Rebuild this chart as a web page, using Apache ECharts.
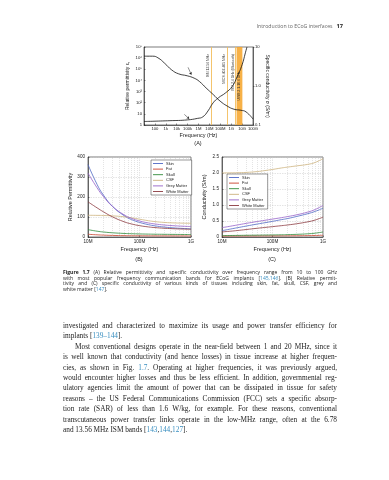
<!DOCTYPE html>
<html>
<head>
<meta charset="utf-8">
<script src="https://cdn.jsdelivr.net/npm/echarts@6.0.0/dist/echarts.min.js"></script>
<style>
html,body{margin:0;padding:0;background:#fff;}
#page{position:relative;width:389px;height:480px;overflow:hidden;background:#fff;}
#chart{position:absolute;left:0;top:0;width:389px;height:480px;}
#hdr{position:absolute;top:23px;left:200px;width:143px;text-align:right;font-family:'Open Sans';font-size:5.2px;line-height:6px;color:#666;white-space:nowrap;}
#hdr b{color:#222;font-size:5.6px;margin-left:4px;}
.blk{position:absolute;left:63px;width:274px;}
.blk div{white-space:nowrap;overflow:visible;}
.blk span.l{display:inline-block;}
#cap{top:270px;font-family:'Open Sans';font-size:5px;line-height:5.6px;color:#222;}
#body{top:321px;font-family:'Liberation Serif';font-size:7.3px;line-height:10.4px;color:#222;}
.ref{color:#3a8fc0;}
</style>
</head>
<body>
<div id="page">
  <div id="chart"></div>
  <div id="hdr">Introduction to ECoG interfaces<b>17</b></div>
  <div id="cap" class="blk">
    <div class="j"><span class="l"><b>Figure 1.7</b> (A) Relative permittivity and specific conductivity over frequency range from 10 to 100 GHz</span></div>
    <div class="j"><span class="l">with most popular frequency communication bands for ECoG implants [<span class="ref">145,146</span>]. (B) Relative permit-</span></div>
    <div class="j"><span class="l">tivity and (C) specific conductivity of various kinds of tissues including skin, fat, skull, CSF, grey and</span></div>
    <div><span class="l">white matter [<span class="ref">147</span>].</span></div>
  </div>
  <div id="body" class="blk">
    <div class="j"><span class="l">investigated and characterized to maximize its usage and power transfer efficiency for</span></div>
    <div><span class="l">implants [<span class="ref">139–144</span>].</span></div>
    <div class="j" style="padding-left:12px"><span class="l">Most conventional designs operate in the near-field between 1 and 20 MHz, since it</span></div>
    <div class="j"><span class="l">is well known that conductivity (and hence losses) in tissue increase at higher frequen-</span></div>
    <div class="j"><span class="l">cies, as shown in Fig. <span class="ref">1.7</span>. Operating at higher frequencies, it was previously argued,</span></div>
    <div class="j"><span class="l">would encounter higher losses and thus be less efficient. In addition, governmental reg-</span></div>
    <div class="j"><span class="l">ulatory agencies limit the amount of power that can be dissipated in tissue for safety</span></div>
    <div class="j"><span class="l">reasons – the US Federal Communications Commission (FCC) sets a specific absorp-</span></div>
    <div class="j"><span class="l">tion rate (SAR) of less than 1.6 W/kg, for example. For these reasons, conventional</span></div>
    <div class="j"><span class="l">transcutaneous power transfer links operate in the low-MHz range, often at the 6.78</span></div>
    <div><span class="l">and 13.56 MHz ISM bands [<span class="ref">143</span>,<span class="ref">144</span>,<span class="ref">127</span>].</span></div>
  </div>
</div>
<script>
// ---------- Chart A data ----------
const freqEpsA = [10, 60, 190, 800, 3500, 15000, 93000, 400000, 1.2e6, 5e6, 2.2e7, 9.5e7, 4.2e8, 1.8e9, 7.8e9, 2.3e10, 1e11];
const epsA     = [1.5e6, 1.5e6, 1.07e6, 3.4e5, 8.7e4, 3.9e4, 2.6e4, 1.6e4, 8.1e3, 2.1e3, 550, 141, 51, 26, 21, 15, 3.4];
const freqSigA = [10, 2400, 93000, 830000, 2.5e6, 7.4e6, 2.2e7, 6.8e7, 2.9e8, 1.26e9, 3.7e9, 1e10, 2e10, 2.8e10];
const sigA     = [0.123, 0.129, 0.135, 0.148, 0.162, 0.229, 0.37, 0.5, 0.66, 0.98, 1.8, 3.5, 7.1, 10];
const xTickLabelsA = ['10', '100', '1k', '10k', '100k', '1M', '10M', '100M', '1G', '10G', '100G'];
const bandLineFreqs = [13.56e6, 403.5e6, 2.45e9];
const bandLineNames = ['ISM 13.56 MHz', 'MICS 402-405 MHz', 'ISM 2.4 GHz (Bluetooth)'];
const uwbRange = [3.1e9, 10.6e9];
const uwbName = 'UWB 3.1-10.6 GHz';

// ---------- Charts B & C data ----------
const tissues = ['Skin', 'Fat', 'Skull', 'CSF', 'Grey Matter', 'White Matter'];
const tissueColors = ['#4f68c4', '#c8412c', '#2f8a3a', '#cdb27e', '#9461c9', '#8c3a40'];
const freqBC = [1e7, 1.5e7, 2e7, 3e7, 5e7, 7e7, 1e8, 1.5e8, 2e8, 3e8, 5e8, 7e8, 1e9];
const permSkin  = [362, 263, 209, 153, 107, 87, 73, 61.6, 55.7, 49.8, 45, 42.7, 40.9];
const permFat   = [13.6, 10.9, 9.4, 7.9, 6.75, 6.3, 6.0, 5.8, 5.7, 5.62, 5.52, 5.48, 5.44];
const permSkull = [36.8, 29, 25, 21, 17.8, 16.4, 15.3, 14.4, 13.9, 13.4, 12.9, 12.6, 12.4];
const permCSF   = [108.6, 108.1, 107.5, 105.7, 101, 95.8, 89, 81.3, 77, 73, 70.2, 69.3, 68.4];
const permGrey  = [319.5, 246.1, 201.9, 152.6, 111.1, 93.3, 80.2, 70.1, 65.1, 60.0, 55.8, 53.9, 52.3];
const permWhite = [175.8, 145.8, 125.8, 100.5, 76.4, 65.2, 56.8, 50.3, 47.1, 43.8, 41.0, 39.7, 38.6];
const condSkin  = [0.197, 0.251, 0.289, 0.341, 0.405, 0.445, 0.489, 0.542, 0.578, 0.641, 0.729, 0.80, 0.90];
const condFat   = [0.029, 0.030, 0.031, 0.032, 0.033, 0.034, 0.035, 0.036, 0.037, 0.039, 0.043, 0.047, 0.054];
const condSkull = [0.043, 0.047, 0.050, 0.054, 0.058, 0.061, 0.064, 0.069, 0.074, 0.083, 0.10, 0.12, 0.156];
const condCSF   = [2.002, 2.005, 2.009, 2.018, 2.045, 2.075, 2.111, 2.157, 2.185, 2.222, 2.27, 2.33, 2.45];
const condGrey  = [0.292, 0.340, 0.375, 0.425, 0.484, 0.521, 0.560, 0.604, 0.639, 0.693, 0.779, 0.860, 0.986];
const condWhite = [0.159, 0.182, 0.202, 0.233, 0.273, 0.298, 0.324, 0.354, 0.376, 0.414, 0.474, 0.531, 0.622];
const xTickLabelsBC = {7: '10M', 8: '100M', 9: '1G'};
const minorGridFreqs = [2e7, 3e7, 4e7, 5e7, 6e7, 7e7, 8e7, 9e7, 2e8, 3e8, 4e8, 5e8, 6e8, 7e8, 8e8, 9e8];
const permSets = [permSkin, permFat, permSkull, permCSF, permGrey, permWhite];
const condSets = [condSkin, condFat, condSkull, condCSF, condGrey, condWhite];

// ---------- build ----------
const FONT = 'Liberation Sans';
const SUP = {'0':'⁰','1':'¹','2':'²','3':'³','4':'⁴','5':'⁵','6':'⁶','7':'⁷','8':'⁸','9':'⁹'};
const e10 = v => Math.round(Math.log10(v));
const pairs = (xs, ys) => xs.map((x, i) => [x, ys[i]]);
const axisLineStyle = {lineStyle: {color: '#222', width: 0.6}};
const tickLabel = (size) => ({fontSize: size, color: '#222', fontFamily: FONT});

const chart = echarts.init(document.getElementById('chart'), null, {renderer: 'canvas', width: 389, height: 480});

const series = [];
// A: decoration series (bands, annotations), drawn underneath the curves
series.push({
  type: 'line', xAxisIndex: 0, yAxisIndex: 0, data: [], z: 1, silent: true,
  markArea: {
    silent: true,
    itemStyle: {color: 'rgba(246,166,45,0.88)'},
    label: {show: true, rotate: 90, fontSize: 3.4, color: '#333', fontFamily: FONT, position: 'inside'},
    data: [[{xAxis: uwbRange[0], name: uwbName}, {xAxis: uwbRange[1]}]]
  },
  markLine: {
    silent: true, symbol: 'none',
    lineStyle: {color: '#f3bd5c', width: 0.9, type: 'solid'},
    label: {show: true, position: 'insideEndTop', fontSize: 3.4, color: '#333', fontFamily: FONT, distance: 1,
      padding: [0, 6, 0, 0], formatter: p => p.name},
    data: bandLineFreqs.map((f, i) => ({xAxis: f, name: bandLineNames[i]}))
  },
  markPoint: {
    silent: true, symbol: 'none',
    label: {show: true, fontSize: 5, color: '#222', fontFamily: 'DejaVu Serif', fontStyle: 'italic', formatter: p => p.name},
    data: [
      {coord: [6e4, 2.5e5], name: 'ε′r'},
      {coord: [3e4, 14], name: 'σ'}
    ]
  }
});
// small pointer arrows from the annotations to their curves
series.push({
  type: 'line', xAxisIndex: 0, yAxisIndex: 0, data: [], z: 2, silent: true,
  markLine: {
    silent: true, symbol: ['none', 'arrow'], symbolSize: 2.5, label: {show: false},
    lineStyle: {color: '#222', width: 0.5, type: 'solid'},
    data: [
      [{coord: [1.1e5, 1.5e5]}, {coord: [2.2e5, 3.3e4]}],
      [{coord: [5e4, 9]}, {coord: [1.4e5, 3.6]}]
    ]
  }
});
series.push({type: 'line', name: 'eps', xAxisIndex: 0, yAxisIndex: 0, z: 5, smooth: true, showSymbol: false,
  lineStyle: {color: '#111', width: 0.8}, data: pairs(freqEpsA, epsA)});
series.push({type: 'line', name: 'sigma', xAxisIndex: 0, yAxisIndex: 1, z: 5, smooth: true, showSymbol: false,
  lineStyle: {color: '#111', width: 0.8}, data: pairs(freqSigA, sigA)});

// B and C
[1, 2].forEach(k => {
  const sets = k === 1 ? permSets : condSets;
  tissues.forEach((t, i) => {
    const s = {type: 'line', name: t, xAxisIndex: k, yAxisIndex: k + 1, z: 5, smooth: true, showSymbol: false,
      color: tissueColors[i], lineStyle: {width: 0.8}, data: pairs(freqBC, sets[i])};
    if (i === 0) {
      s.markLine = {silent: true, symbol: 'none', z: 1, label: {show: false},
        lineStyle: {color: '#c8c8c8', width: 0.5, type: [1, 1]},
        data: minorGridFreqs.map(f => ({xAxis: f}))};
    }
    series.push(s);
  });
});

const gridLine = {show: true, lineStyle: {color: '#c8c8c8', width: 0.5, type: [1.5, 1]}};
const legendBase = {
  data: tissues, orient: 'vertical', icon: 'rect', itemWidth: 10, itemHeight: 0.9, itemGap: 1.6,
  selectedMode: false, backgroundColor: '#fff', borderColor: '#333', borderWidth: 0.5, padding: [1.5, 3, 1.5, 2],
  textStyle: {fontSize: 4, color: '#222', fontFamily: FONT, padding: [0, 0, 0, -2]}
};
const titleStyle = {fontSize: 5.5, fontWeight: 'normal', color: '#222', fontFamily: FONT};

const option = {
  animation: false,
  textStyle: {fontFamily: FONT},
  title: [
    {text: '(A)', left: 198, top: 140, textAlign: 'center', padding: 0, textStyle: titleStyle},
    {text: '(B)', left: 139, top: 256, textAlign: 'center', padding: 0, textStyle: titleStyle},
    {text: '(C)', left: 272, top: 256, textAlign: 'center', padding: 0, textStyle: titleStyle}
  ],
  legend: [
    Object.assign({}, legendBase, {left: 151, top: 160}),
    Object.assign({}, legendBase, {left: 227, top: 174})
  ],
  grid: [
    {left: 144, top: 47, width: 109, height: 78, show: true, borderColor: '#222', borderWidth: 0.6, backgroundColor: 'transparent'},
    {left: 88, top: 157, width: 103, height: 80, show: true, borderColor: '#222', borderWidth: 0.6, backgroundColor: 'transparent'},
    {left: 222, top: 157, width: 101, height: 80, show: true, borderColor: '#222', borderWidth: 0.6, backgroundColor: 'transparent'}
  ],
  xAxis: [
    {type: 'log', logBase: 10, gridIndex: 0, min: 10, max: 1e11, interval: 1, splitNumber: 10,
      axisLine: axisLineStyle, axisTick: {inside: true, length: 1.5, lineStyle: {width: 0.5}}, splitLine: {show: false},
      axisLabel: Object.assign(tickLabel(4.2), {margin: 2, showMinLabel: true, showMaxLabel: true,
        formatter: v => { const e = e10(v); return e === 1 ? '' : xTickLabelsA[e - 1]; }}),
      name: 'Frequency (Hz)', nameLocation: 'middle', nameGap: 7.5, nameTextStyle: {fontSize: 5.5, color: '#222', fontFamily: FONT}},
    {type: 'log', logBase: 10, gridIndex: 1, min: 1e7, max: 1e9, interval: 1,
      axisLine: axisLineStyle, axisTick: {inside: true, length: 1.5, lineStyle: {width: 0.5}}, splitLine: gridLine,
      axisLabel: Object.assign(tickLabel(4.6), {margin: 2.5, formatter: v => xTickLabelsBC[e10(v)]}),
      name: 'Frequency (Hz)', nameLocation: 'middle', nameGap: 9, nameTextStyle: {fontSize: 5.5, color: '#222', fontFamily: FONT}},
    {type: 'log', logBase: 10, gridIndex: 2, min: 1e7, max: 1e9, interval: 1,
      axisLine: axisLineStyle, axisTick: {inside: true, length: 1.5, lineStyle: {width: 0.5}}, splitLine: gridLine,
      axisLabel: Object.assign(tickLabel(4.6), {margin: 2.5, formatter: v => xTickLabelsBC[e10(v)]}),
      name: 'Frequency (Hz)', nameLocation: 'middle', nameGap: 9, nameTextStyle: {fontSize: 5.5, color: '#222', fontFamily: FONT}}
  ],
  yAxis: [
    {type: 'log', logBase: 10, gridIndex: 0, min: 1, max: 1e7, interval: 1, position: 'left',
      axisLine: axisLineStyle, axisTick: {inside: true, length: 1.5, lineStyle: {width: 0.5}}, splitLine: {show: false},
      axisLabel: Object.assign(tickLabel(4.2), {margin: 2, formatter: v => { const e = e10(v); return e === 0 ? '1' : e === 1 ? '10' : '10' + SUP[e]; }}),
      name: 'Relative permittivity ε{sub|r}', nameLocation: 'middle', nameRotate: 90, nameGap: 13,
      nameTextStyle: {fontSize: 5, color: '#222', fontFamily: FONT, rich: {sub: {fontSize: 3.5, verticalAlign: 'bottom', padding: [3, 0, 0, 0]}}}},
    {type: 'log', logBase: 10, gridIndex: 0, min: 0.1, max: 10, interval: 1, position: 'right',
      axisLine: axisLineStyle, axisTick: {inside: false, length: 1.5, lineStyle: {width: 0.5}}, splitLine: {show: false},
      axisLabel: Object.assign(tickLabel(4.2), {margin: 2, formatter: v => { const e = e10(v); return e === -1 ? '0.1' : e === 0 ? '1.0' : '10'; }}),
      name: 'Specific conductivity σ (S/m)', nameLocation: 'middle', nameRotate: -90, nameGap: 11,
      nameTextStyle: {fontSize: 5, color: '#222', fontFamily: FONT}},
    {type: 'value', gridIndex: 1, min: 0, max: 400, interval: 100,
      axisLine: axisLineStyle, axisTick: {inside: true, length: 1.5, lineStyle: {width: 0.5}}, splitLine: gridLine,
      axisLabel: Object.assign(tickLabel(4.6), {margin: 3}),
      name: 'Relative Permittivity', nameLocation: 'middle', nameRotate: 90, nameGap: 14,
      nameTextStyle: {fontSize: 5.5, color: '#222', fontFamily: FONT}},
    {type: 'value', gridIndex: 2, min: 0, max: 2.5, interval: 0.5,
      axisLine: axisLineStyle, axisTick: {inside: true, length: 1.5, lineStyle: {width: 0.5}}, splitLine: gridLine,
      axisLabel: Object.assign(tickLabel(4.6), {margin: 3, formatter: v => v === 0 ? '0' : v.toFixed(1)}),
      name: 'Conductivity (S/m)', nameLocation: 'middle', nameRotate: 90, nameGap: 15,
      nameTextStyle: {fontSize: 5.5, color: '#222', fontFamily: FONT}}
  ],
  series: series
};
chart.setOption(option);

// justify text lines
document.querySelectorAll('.blk div.j').forEach(div => {
  const span = div.querySelector('span.l');
  const cs = getComputedStyle(div);
  const target = div.clientWidth - parseFloat(cs.paddingLeft) - parseFloat(cs.paddingRight);
  const natural = span.getBoundingClientRect().width;
  const spaces = (span.textContent.match(/ /g) || []).length;
  if (spaces > 0) span.style.wordSpacing = ((target - natural) / spaces) + 'px';
});
</script>
</body>
</html>
